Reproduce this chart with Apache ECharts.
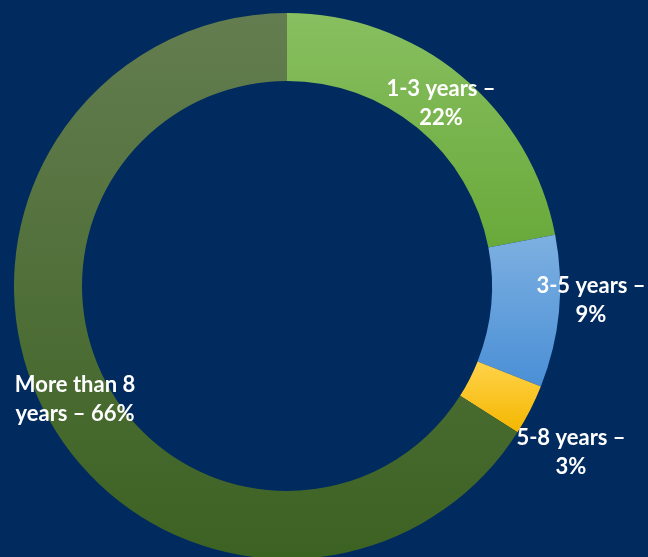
<!DOCTYPE html>
<html>
<head>
<meta charset="utf-8">
<script src="https://cdn.jsdelivr.net/npm/echarts@6/dist/echarts.min.js"></script>
<style>
html,body{margin:0;padding:0;background:#012A5E;}
#chart{width:648px;height:557px;}
</style>
</head>
<body>
<div id="chart"></div>
<script>
var categories = ['1-3 years', '3-5 years', '5-8 years', 'More than 8 years'];
var values = [22, 9, 3, 66];
// where the label text breaks onto a second line
var labelFirstLines = ['1-3 years –', '3-5 years –', '5-8 years –', 'More than 8'];
var labelSecondLines = ['22%', '9%', '3%', 'years – 66%'];

var gradients = [
  ['#88BF60', '#69A93A'],
  ['#7DB0E1', '#4A8FD6'],
  ['#FFD24A', '#F4B700'],
  ['#647D50', '#3C6222']
];
var labelPos = [[441, 103], [591, 300], [571, 452], [75, 399]];

var chart = echarts.init(document.getElementById('chart'));
chart.setOption({
  backgroundColor: '#012A5E',
  animation: false,
  series: [{
    type: 'pie',
    center: [287, 286],
    radius: [205, 273],
    startAngle: 90,
    clockwise: true,
    avoidLabelOverlap: false,
    silent: true,
    label: {
      show: true,
      position: 'outside',
      color: '#FFFFFF',
      fontFamily: 'Lato',
      fontWeight: 'bold',
      fontSize: 22,
      lineHeight: 29,
      align: 'center',
      formatter: function (p) {
        return labelFirstLines[p.dataIndex] + '\n' + labelSecondLines[p.dataIndex];
      }
    },
    labelLine: { show: false },
    labelLayout: function (p) {
      var pos = labelPos[p.dataIndex];
      return { x: pos[0], y: pos[1], align: 'center', verticalAlign: 'middle' };
    },
    itemStyle: { borderWidth: 0 },
    data: categories.map(function (c, i) {
      return {
        name: c,
        value: values[i],
        itemStyle: {
          color: new echarts.graphic.LinearGradient(0, 0, 0, 1, [
            { offset: 0, color: gradients[i][0] },
            { offset: 1, color: gradients[i][1] }
          ])
        }
      };
    })
  }]
});
</script>
</body>
</html>
